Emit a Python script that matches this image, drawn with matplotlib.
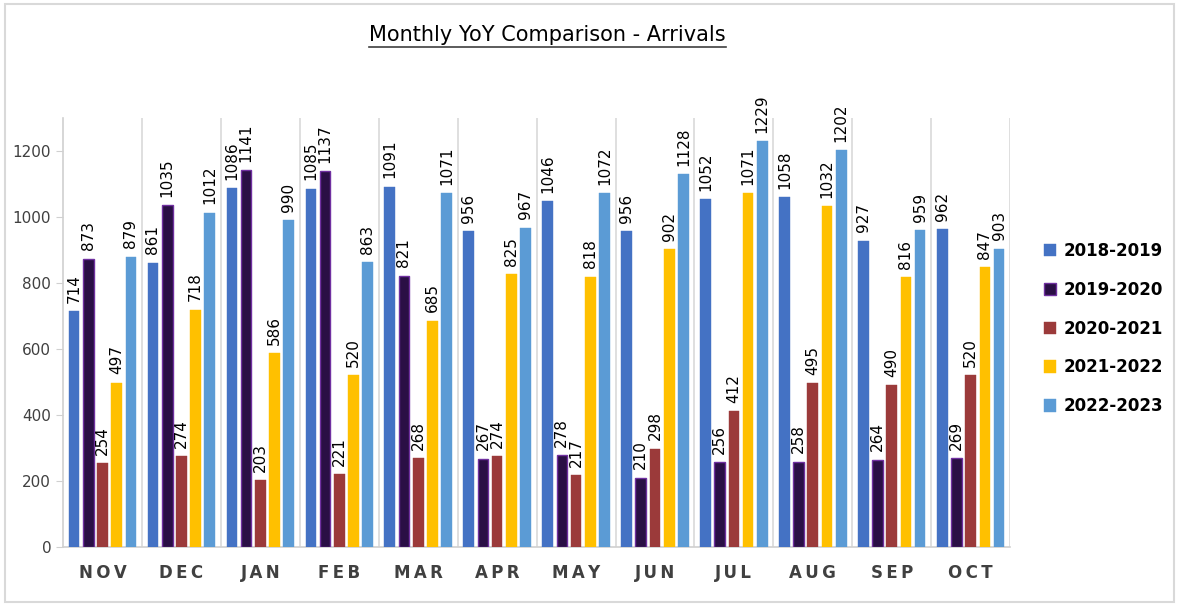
import numpy as np
import matplotlib
matplotlib.use("Agg")
import matplotlib.pyplot as plt
from matplotlib.lines import Line2D
from matplotlib.patches import Rectangle

# data
months = ["NOV", "DEC", "JAN", "FEB", "MAR", "APR", "MAY", "JUN", "JUL", "AUG", "SEP", "OCT"]
series_names = ["2018-2019", "2019-2020", "2020-2021", "2021-2022", "2022-2023"]
v_2018_2019 = [714, 861, 1086, 1085, 1091, 956, 1046, 956, 1052, 1058, 927, 962]
v_2019_2020 = [873, 1035, 1141, 1137, 821, 267, 278, 210, 256, 258, 264, 269]
v_2020_2021 = [254, 274, 203, 221, 268, 274, 217, 298, 412, 495, 490, 520]
v_2021_2022 = [497, 718, 586, 520, 685, 825, 818, 902, 1071, 1032, 816, 847]
v_2022_2023 = [879, 1012, 990, 863, 1071, 967, 1072, 1128, 1229, 1202, 959, 903]
all_values = [v_2018_2019, v_2019_2020, v_2020_2021, v_2021_2022, v_2022_2023]

colors = ["#4472C4", "#2A0F45", "#9B3A3A", "#FFC000", "#5B9BD5"]
edges = ["#4472C4", "#7030A0", "#9B3A3A", "#FFC000", "#5B9BD5"]

fig = plt.figure(figsize=(11.78, 6.04), dpi=100)
ax = fig.add_axes([0.0535, 0.0944, 0.804, 0.711])

x = np.arange(len(months))
slot = 0.18
width = 0.135
for i, vals in enumerate(all_values):
    pos = x + (i - 2) * slot
    ax.bar(pos, vals, width=width, color=colors[i], edgecolor=edges[i],
           linewidth=1.0 if i == 1 else 0.3, label=series_names[i], zorder=3)
    for px, v in zip(pos, vals):
        ax.annotate(str(v), (px, v), xytext=(0, 6), textcoords="offset points",
                    rotation=90, ha="center", va="bottom", fontsize=11, color="black")

ax.set_xlim(-0.5, len(months) - 0.5)
ax.set_ylim(0, 1300)
ax.set_yticks(np.arange(0, 1201, 200))
ax.tick_params(axis="y", labelsize=11, colors="#D0D0D0", labelcolor="#404040", length=5)
ax.set_xticks(x)
ax.set_xticklabels(["\u2009".join(m) for m in months], fontsize=12, fontweight="bold", color="#404040")
ax.tick_params(axis="x", length=0, pad=12)

# category separators
for b in np.arange(0.5, len(months), 1):
    ax.axvline(b, color="#D9D9D9", lw=1.2, zorder=1)

for s in ["top", "right"]:
    ax.spines[s].set_visible(False)
ax.spines["left"].set_color("#D0D0D0")
ax.spines["left"].set_linewidth(1.2)
ax.spines["bottom"].set_color("#D0D0D0")
ax.spines["bottom"].set_linewidth(1.2)

fig.legend(loc="center left", bbox_to_anchor=(0.886, 0.456), frameon=False,
           prop={"size": 12, "weight": "bold"}, handlelength=0.75, handleheight=0.75,
           handletextpad=0.45, labelspacing=1.25, borderaxespad=0, borderpad=0)

# title with underline
title = fig.text(0.465, 0.942, "Monthly YoY Comparison - Arrivals", ha="center", va="center",
                 fontsize=15, color="black")
fig.canvas.draw()
bb = title.get_window_extent().transformed(fig.transFigure.inverted())
fig.add_artist(Line2D([bb.x0, bb.x1], [bb.y0 - 0.004, bb.y0 - 0.004], color="#404040", lw=1.2,
                      transform=fig.transFigure))

# outer frame
fig.add_artist(Rectangle((0.004, 0.004), 0.993, 0.99, transform=fig.transFigure,
                         fill=False, edgecolor="#D9D9D9", lw=1.5))

fig.savefig("out.png", dpi=100)
